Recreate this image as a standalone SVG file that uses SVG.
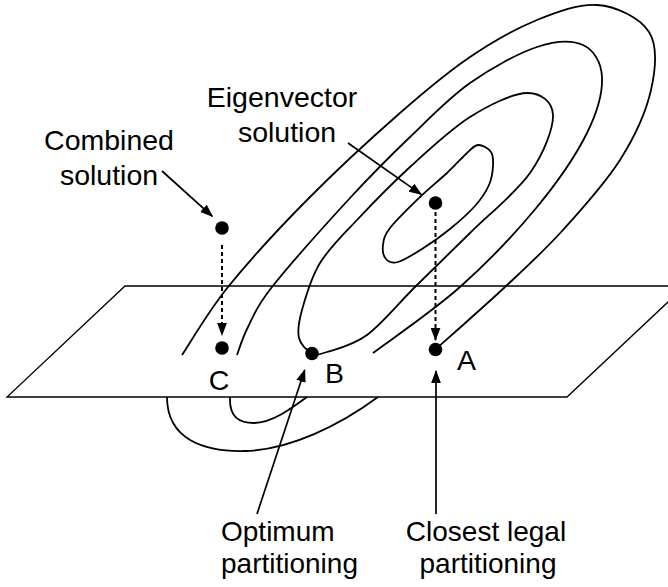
<svg xmlns="http://www.w3.org/2000/svg" width="668" height="587" viewBox="0 0 668 587">
<style>
.pl{fill:none;stroke:#000;stroke-width:1.3}
.ct{fill:none;stroke:#000;stroke-width:1.8}
.ar{fill:none;stroke:#000;stroke-width:1.7;marker-end:url(#ah)}
.da{fill:none;stroke:#000;stroke-width:2;stroke-dasharray:4 3;marker-end:url(#ah)}
.dot{fill:#000}
text{font-family:"Liberation Sans",Arial,sans-serif;font-size:28.5px;fill:#000}
.lo{font-size:28px}
</style>
<defs>
<marker id="ah" markerUnits="userSpaceOnUse" markerWidth="13" markerHeight="10" refX="11" refY="4.5" orient="auto" viewBox="0 0 12 9">
<path d="M0,0 L12,4.5 L0,9 Z" fill="#000"/>
</marker>
</defs>
<g id="plane">
<polygon class="pl" points="125,286 685,286 567,397 7,397"/>
</g>
<g id="contours">
<path id="contour1" class="ct" d="M478,145 C482.2,144.7 488.5,148.5 491,152 C493.5,155.5 493.3,160.5 493,166 C492.7,171.5 492,178.3 489,185 C486,191.7 481.5,198.7 475,206 C468.5,213.3 458.8,221.8 450,229 C441.2,236.2 430.7,243.5 422,249 C413.3,254.5 404,260.3 398,262 C392,263.7 388.5,261.8 386,259 C383.5,256.2 382.3,250.2 383,245 C383.7,239.8 383.8,236 390,228 C396.2,220 410.5,206.2 420,197 C429.5,187.8 439.3,180.2 447,173 C454.7,165.8 460.8,158.7 466,154 C471.2,149.3 473.8,145.3 478,145 Z"/>
<path id="contour2" class="ct" d="M312,353 C307.3,350.7 300.7,345.2 299,338 C297.3,330.8 298.5,322.5 302,310 C305.5,297.5 310.8,278 320,263 C329.2,248 342,236 357,220 C372,204 391.2,184.2 410,167 C428.8,149.8 450.5,129.3 470,117 C489.5,104.7 513.2,93.3 527,93 C540.8,92.7 552.5,101.7 553,115 C553.5,128.3 543.8,153.3 530,173 C516.2,192.7 489.2,214 470,233 C450.8,252 432.2,270 415,287 C397.8,304 381.7,324.2 367,335 C352.3,345.8 336.2,349 327,352 C317.8,355 316.7,355.3 312,353 Z"/>
<path id="contour3" class="ct" d="M237,355 C238.8,350.3 242.2,338.3 248,327 C253.8,315.7 255,308.5 272,287 C289,265.5 327,223 350,198 C373,173 390,156.2 410,137 C430,117.8 448.8,98 470,83 C491.2,68 518.2,53.3 537,47 C555.8,40.7 572.2,40 583,45 C593.8,50 601.3,62.3 602,77 C602.7,91.7 597.8,111.3 587,133 C576.2,154.7 558.2,181.3 537,207 C515.8,232.7 487.3,262.7 460,287 C432.7,311.3 387.5,342 373,353"/>
<path id="contour3-below" class="ct" d="M230,397 C229,418 240,423 254,423 C272,423 292,408 307,397"/>
<path id="contour4" class="ct" d="M182,355 C189.7,343.7 207.2,312.8 228,287 C248.8,261.2 278.3,229 307,200 C335.7,171 372.8,136.8 400,113 C427.2,89.2 447.2,72.5 470,57 C492.8,41.5 515.8,28.7 537,20 C558.2,11.3 578.3,4 597,5 C615.7,6 640,17.8 649,32 C658,46.2 655.8,68.7 651,90 C646.2,111.3 634.7,136.7 620,160 C605.3,183.3 582.2,208.8 563,230 C543.8,251.2 526.2,267.2 505,287 C483.8,306.8 447.5,338.7 436,349"/>
<path id="contour4-below" class="ct" d="M167,397 C167,440 205,452 245,451 C290,450 340,425 378,397"/>
</g>
<g id="connectors">
<line class="ar" x1="162" y1="171" x2="212.3" y2="216.3"/>
<line class="ar" x1="348" y1="143" x2="421.2" y2="194.4"/>
<line class="ar" x1="257" y1="514" x2="304.7" y2="370"/>
<line class="ar" x1="436" y1="514" x2="436" y2="371"/>
<line class="da" x1="222" y1="245" x2="222" y2="335"/>
<line class="da" x1="435.5" y1="212" x2="435.5" y2="340"/>
</g>
<g id="node-combined">
<circle class="dot" cx="222" cy="228" r="6.8"/>
<text x="109" y="150" text-anchor="middle">Combined</text>
<text x="109" y="185" text-anchor="middle">solution</text>
</g>
<g id="node-eigenvector">
<circle class="dot" cx="435.5" cy="203" r="6.8"/>
<text x="282" y="107" text-anchor="middle">Eigenvector</text>
<text x="287" y="142" text-anchor="middle">solution</text>
</g>
<g id="node-C">
<circle class="dot" cx="222" cy="348" r="6.8"/>
<text x="219" y="390" text-anchor="middle">C</text>
</g>
<g id="node-B">
<circle class="dot" cx="312" cy="353.5" r="6.8"/>
<text x="325" y="383">B</text>
</g>
<g id="node-A">
<circle class="dot" cx="435.5" cy="349.5" r="6.8"/>
<text x="457" y="370">A</text>
</g>
<g id="label-optimum">
<text class="lo" x="221" y="541">Optimum</text>
<text class="lo" x="221" y="573">partitioning</text>
</g>
<g id="label-closest">
<text class="lo" x="486" y="541" text-anchor="middle">Closest legal</text>
<text class="lo" x="488" y="573" text-anchor="middle">partitioning</text>
</g>
</svg>
